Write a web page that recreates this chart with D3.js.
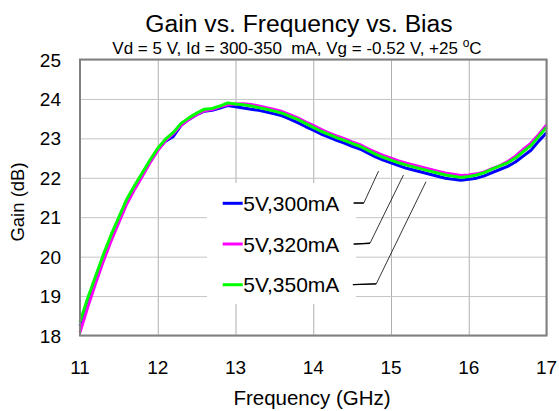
<!DOCTYPE html>
<html>
<head>
<meta charset="utf-8">
<script src="https://cdn.jsdelivr.net/npm/d3@7"></script>
<style>
  body { margin: 0; background: #fff; }
  svg { display: block; font-family: "Liberation Sans", Arial, sans-serif; }
</style>
</head>
<body>
<svg id="chart"></svg>
<script>
// frequency points (GHz)
const freqs = [11.0,11.1,11.2,11.3,11.4,11.5,11.6,11.7,11.8,11.9,
  12.0,12.1,12.2,12.3,12.4,12.5,12.6,12.7,12.8,12.9,
  13.0,13.1,13.2,13.3,13.4,13.5,13.6,13.7,13.8,13.9,
  14.0,14.1,14.2,14.3,14.4,14.5,14.6,14.7,14.8,14.9,
  15.0,15.1,15.2,15.3,15.4,15.5,15.6,15.7,15.8,15.9,
  16.0,16.1,16.2,16.3,16.4,16.5,16.6,16.7,16.8,16.9,17.0];

// gain (dB) for each bias
const gain300 = [18.25,18.87,19.43,19.98,20.49,20.95,21.40,21.76,22.08,22.41,
  22.71,22.93,23.05,23.33,23.48,23.60,23.69,23.71,23.77,23.83,
  23.80,23.77,23.74,23.71,23.67,23.62,23.57,23.49,23.40,23.30,
  23.21,23.11,23.03,22.95,22.88,22.80,22.73,22.63,22.53,22.45,
  22.38,22.31,22.24,22.19,22.14,22.09,22.04,21.99,21.96,21.94,
  21.96,21.99,22.05,22.13,22.21,22.29,22.40,22.55,22.70,22.93,23.14];

const gain320 = [18.08,18.72,19.32,19.88,20.40,20.87,21.33,21.70,22.03,22.38,
  22.69,22.94,23.12,23.33,23.48,23.60,23.70,23.73,23.80,23.85,
  23.87,23.88,23.86,23.82,23.78,23.73,23.68,23.60,23.52,23.42,
  23.33,23.23,23.14,23.06,22.99,22.91,22.84,22.74,22.65,22.57,
  22.50,22.43,22.37,22.32,22.27,22.22,22.17,22.12,22.09,22.06,
  22.07,22.10,22.15,22.23,22.31,22.41,22.55,22.72,22.88,23.10,23.34];

const gain350 = [18.35,18.95,19.50,20.05,20.55,21.00,21.45,21.80,22.12,22.45,
  22.75,22.98,23.15,23.38,23.52,23.64,23.74,23.76,23.82,23.90,
  23.87,23.85,23.82,23.78,23.74,23.69,23.64,23.56,23.48,23.38,
  23.28,23.18,23.10,23.02,22.95,22.87,22.80,22.70,22.60,22.52,
  22.45,22.38,22.32,22.27,22.22,22.17,22.12,22.07,22.04,22.01,
  22.03,22.07,22.13,22.22,22.30,22.38,22.50,22.66,22.82,23.05,23.28];

const seriesNames = ["5V,300mA", "5V,320mA", "5V,350mA"];
const seriesColors = ["#0000ff", "#ff00ff", "#00ff00"];
const seriesValues = [gain300, gain320, gain350];

const xTicks = [11, 12, 13, 14, 15, 16, 17];
const yTicks = [18, 19, 20, 21, 22, 23, 24, 25];

// callout leader lines in data units: [start, elbow, end] as [GHz, dB]
const leaders = [
  [[14.52, 21.36], [14.65, 21.36], [14.84, 22.17]],
  [[14.52, 20.32], [14.73, 20.34], [15.16, 22.07]],
  [[14.51, 19.29], [14.81, 19.31], [15.45, 21.90]]
];

const width = 559, height = 411;
const margin = { top: 59.5, right: 12.5, bottom: 75.5, left: 80 };
const innerWidth = width - margin.left - margin.right;
const innerHeight = height - margin.top - margin.bottom;

let svg = d3.select("#chart")
  .attr("width", width)
  .attr("height", height);

let x = d3.scaleLinear().domain([11, 17]).range([0, innerWidth]);
let y = d3.scaleLinear().domain([18, 25]).range([innerHeight, 0]);

let g = svg.append("g")
  .attr("transform", `translate(${margin.left},${margin.top})`);

//grid lines
g.append("g")
  .attr("transform", `translate(0,${innerHeight})`)
  .call(d3.axisBottom(x).tickValues(xTicks).tickSize(-innerHeight).tickFormat(""))
  .call(a => a.select(".domain").remove())
  .selectAll(".tick line").attr("stroke", "#b0b0b0");

g.append("g")
  .call(d3.axisLeft(y).tickValues(yTicks).tickSize(-innerWidth).tickFormat(""))
  .call(a => a.select(".domain").remove())
  .selectAll(".tick line").attr("stroke", "#c4c4c4");

//tick labels
g.selectAll(".xLabel")
  .data(xTicks)
  .join("text")
  .attr("class", "xLabel")
  .attr("x", d => x(d))
  .attr("y", innerHeight + 38.5)
  .attr("text-anchor", "middle")
  .attr("font-size", "19px")
  .text(d => d);

g.selectAll(".yLabel")
  .data(yTicks)
  .join("text")
  .attr("class", "yLabel")
  .attr("x", -19)
  .attr("y", d => y(d) + 7)
  .attr("text-anchor", "end")
  .attr("font-size", "19px")
  .text(d => d);

//legend box covers the grid
g.append("rect")
  .attr("x", 127)
  .attr("y", 183 - margin.top)
  .attr("width", 149)
  .attr("height", 121)
  .attr("fill", "#fff");

//leader lines
let leaderLine = d3.line().x(d => x(d[0])).y(d => y(d[1]));
g.selectAll(".leader")
  .data(leaders)
  .join("path")
  .attr("class", "leader")
  .attr("d", leaderLine)
  .attr("fill", "none")
  .attr("stroke", "#000")
  .attr("stroke-width", 0.8);
g.selectAll(".leaderTick")
  .data(leaders)
  .join("path")
  .attr("class", "leaderTick")
  .attr("d", d => leaderLine(d.slice(0, 2)))
  .attr("fill", "none")
  .attr("stroke", "#000")
  .attr("stroke-width", 1.3);

//curves
let line = d3.line()
  .x((d, i) => x(freqs[i]))
  .y(d => y(d));

g.selectAll(".series")
  .data(seriesValues)
  .join("path")
  .attr("class", "series")
  .attr("d", line)
  .attr("fill", "none")
  .attr("stroke", (d, i) => seriesColors[i])
  .attr("stroke-width", 3)
  .attr("stroke-linejoin", "round");

//plot border
g.append("rect")
  .attr("width", innerWidth)
  .attr("height", innerHeight)
  .attr("fill", "none")
  .attr("stroke", "#808080")
  .attr("stroke-width", 2);

//legend entries
let legend = g.append("g")
  .attr("transform", `translate(142.7,${203.3 - margin.top})`);
let item = legend.selectAll("g")
  .data(seriesNames)
  .join("g")
  .attr("transform", (d, i) => `translate(0,${i * 40.7})`);
item.append("line")
  .attr("x1", 0).attr("x2", 20)
  .attr("stroke", (d, i) => seriesColors[i])
  .attr("stroke-width", 3);
item.append("text")
  .attr("x", 20.5)
  .attr("y", 7.5)
  .attr("font-size", "21px")
  .text(d => d);

//titles
svg.append("text")
  .attr("x", 299)
  .attr("y", 32)
  .attr("text-anchor", "middle")
  .attr("font-size", "24.7px")
  .text("Gain vs. Frequency vs. Bias");

let sub = svg.append("text")
  .attr("x", 297)
  .attr("y", 53.5)
  .attr("text-anchor", "middle")
  .attr("font-size", "17px");
sub.append("tspan").text("Vd = 5 V, Id = 300-350\u00a0 mA, Vg = -0.52 V, +25 ");
sub.append("tspan").attr("font-size", "12px").attr("dy", -7).text("o");
sub.append("tspan").attr("dy", 7).text("C");

svg.append("text")
  .attr("x", 312)
  .attr("y", 405)
  .attr("text-anchor", "middle")
  .attr("font-size", "20.5px")
  .text("Frequency (GHz)");

svg.append("text")
  .attr("transform", "translate(24,202) rotate(-90)")
  .attr("text-anchor", "middle")
  .attr("font-size", "18.5px")
  .text("Gain (dB)");
</script>
</body>
</html>
